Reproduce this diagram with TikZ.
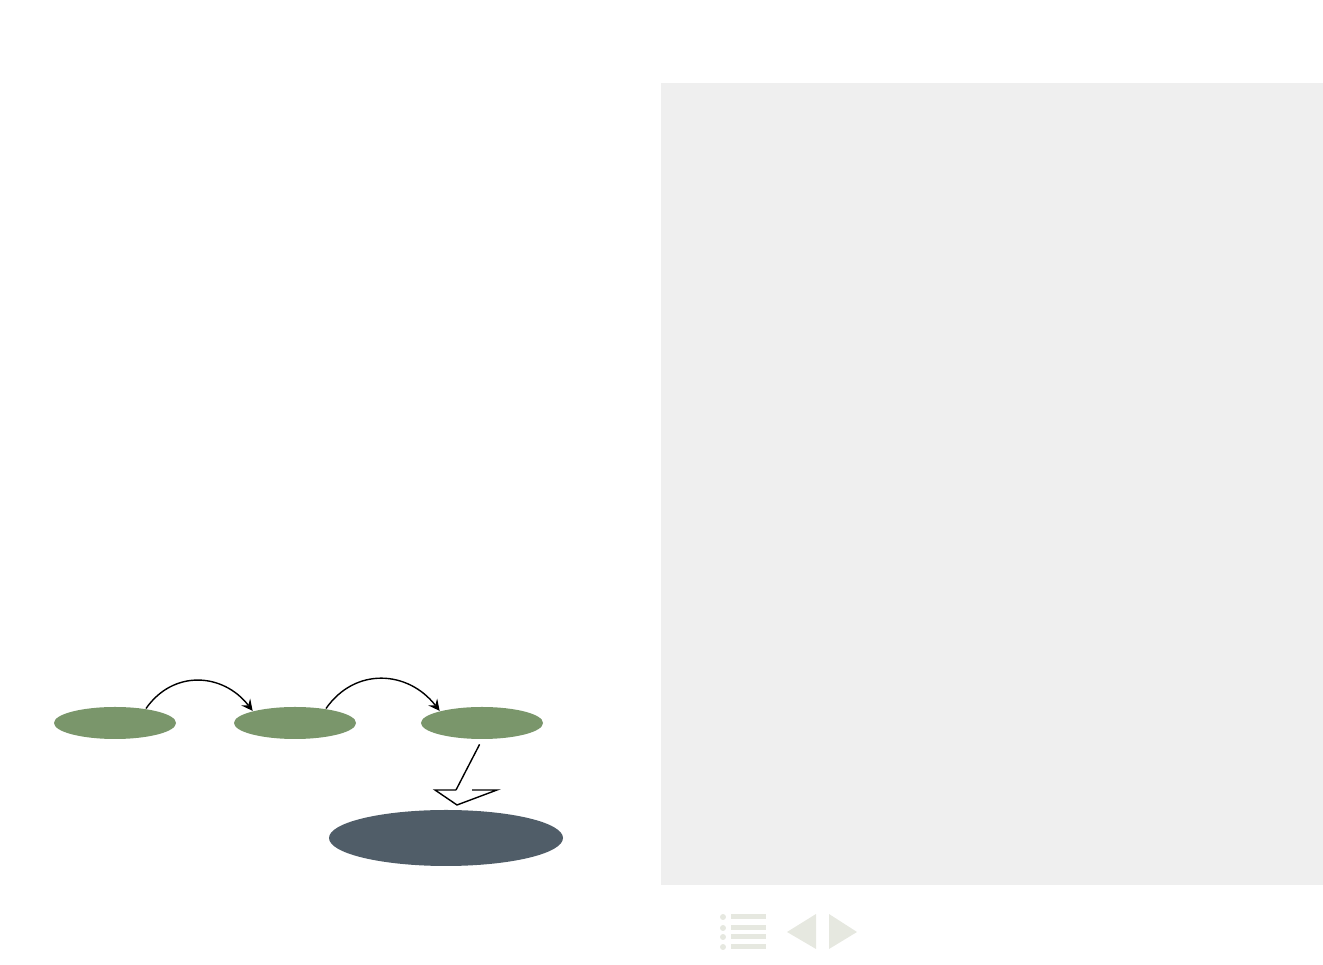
\documentclass[tikz,border=0pt]{standalone}
\usepackage{tikz}
\usetikzlibrary{arrows,positioning,shapes,calc}
\definecolor{stategreen}{HTML}{7A966B}
\definecolor{statedark}{HTML}{505D68}
\definecolor{panelgray}{HTML}{EFEFEF}
\definecolor{navgray}{HTML}{E6E8E0}

\begin{document}
\begin{tikzpicture}[
    state/.style={ellipse,fill=stategreen,minimum width=1.22cm,minimum height=0.32cm,inner sep=0pt},
    final/.style={ellipse,fill=statedark,minimum width=2.34cm,minimum height=0.56cm,inner sep=0pt},
    navicon/.style={fill=navgray,draw=none}]
  \useasboundingbox (0,0) rectangle (13.23,9.65);
  % Right panel
  \fill[panelgray] (6.61,0.80) rectangle (13.23,8.82);
  % The chain of states
  \path (1.15,2.42) node[state] (S1) {};
  \path (2.95,2.42) node[state] (S2) {};
  \path (4.82,2.42) node[state] (S3) {};
  \path (4.46,1.27) node[final] (F) {};
  % Draw the transitions
  \draw[-stealth] (S1.25) to[out=55,in=128,looseness=1.15] (S2.164);
  \draw[-stealth] (S2.25) to[out=55,in=128,looseness=1.15] (S3.164);
  % Open arrow down to the final state
  \coordinate (H) at (4.56,1.75);
  \draw[shorten <=1.5pt] (S3.south) -- (H);
  \draw (H) -- ++(-0.21,0) -- (4.57,1.60) -- (4.97,1.75) -- (4.72,1.75);
  % Navigation symbols
  \foreach \y in {0.48,0.37,0.28,0.18} {
    \fill[navicon] (7.23,\y) circle (0.03);
    \fill[navicon] (7.31,\y-0.025) rectangle (7.66,\y+0.025);
  }
  \fill[navicon] (7.87,0.33) -- (8.16,0.51) -- (8.16,0.16) -- cycle;
  \fill[navicon] (8.57,0.33) -- (8.29,0.51) -- (8.29,0.16) -- cycle;
\end{tikzpicture}
\end{document}
